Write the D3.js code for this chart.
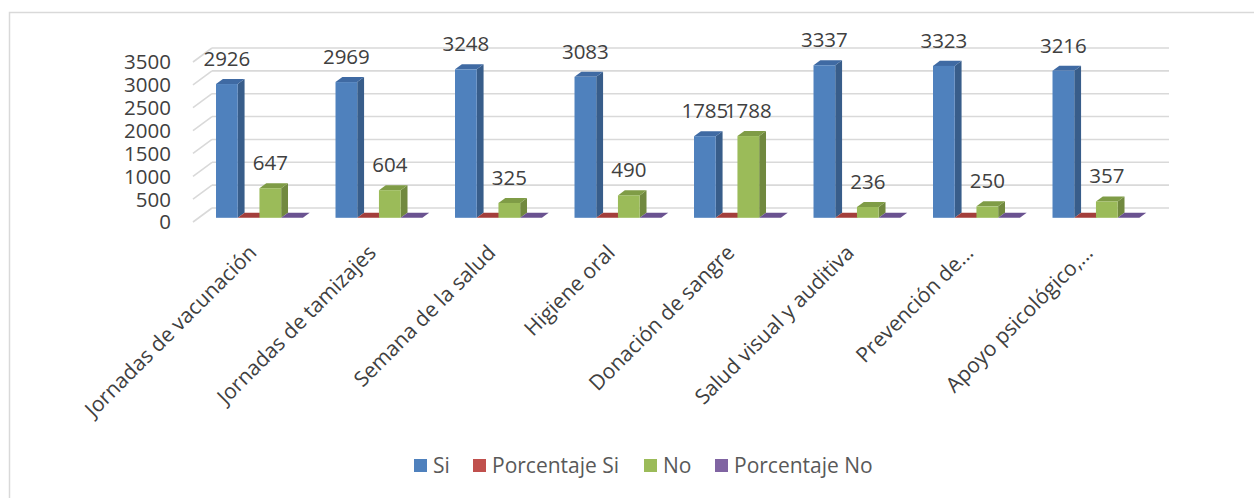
<!DOCTYPE html>
<html>
<head>
<meta charset="utf-8">
<script src="https://cdn.jsdelivr.net/npm/d3@7"></script>
<style>
  html, body { margin: 0; padding: 0; background: #fff; }
  svg { display: block; font-family: "Open Sans", sans-serif; }
</style>
</head>
<body>
<svg width="1254" height="498"></svg>
<script>
// chart data
var categories = ['Jornadas de vacunación', 'Jornadas de tamizajes', 'Semana de la salud', 'Higiene oral',
  'Donación de sangre', 'Salud visual y auditiva', 'Prevención de...', 'Apoyo psicológico,...'];
var si = [2926, 2969, 3248, 3083, 1785, 3337, 3323, 3216];
var porcentajeSi = [0.82, 0.83, 0.91, 0.86, 0.5, 0.93, 0.93, 0.9];
var no = [647, 604, 325, 490, 1788, 236, 250, 357];
var porcentajeNo = [0.18, 0.17, 0.09, 0.14, 0.5, 0.07, 0.07, 0.1];
var yTicks = [0, 500, 1000, 1500, 2000, 2500, 3000, 3500];
var seriesNames = ['Si', 'Porcentaje Si', 'No', 'Porcentaje No'];

var colors = {
  'Si': { front: '#4f81bd', side: '#385d8a', top: '#3f6aa3' },
  'Porcentaje Si': { front: '#c0504d', side: '#8c3836', top: '#a33e3b' },
  'No': { front: '#9bbb59', side: '#71893f', top: '#7f9c46' },
  'Porcentaje No': { front: '#8064a2', side: '#5c4876', top: '#6a5290' }
};

var svg = d3.select('svg');

// border of the chart area
svg.append('path')
  .attr('d', 'M9.5,498 L9.5,12.5 L1254,12.5')
  .attr('fill', 'none').attr('stroke', '#d9d9d9').attr('stroke-width', 1.5);

// floor front edge and depth of the 3D box
var frontLeft = 194, frontRight = 1150, floorY = 222;
var D = { x: 19, y: -14 };
var tFront = 0.3, tBack = 0.66;

var h = d3.scaleLinear().domain([0, 3500]).range([0, 160]);

var x0 = d3.scaleBand().domain(categories).range([frontLeft, frontRight])
  .paddingInner(0.273).paddingOuter(0.1365);
var x1 = d3.scaleBand().domain(seriesNames).range([0, x0.bandwidth()]);

// gridlines: left wall diagonals + back wall
var grid = svg.append('g').attr('stroke', '#d9d9d9').attr('stroke-width', 1.6).attr('fill', 'none');
yTicks.forEach(function (v) {
  var yf = floorY - h(v), yb = yf + D.y;
  grid.append('line')
    .attr('x1', frontLeft - 1).attr('y1', yf).attr('x2', frontLeft - 1 + D.x).attr('y2', yb);
  grid.append('line')
    .attr('x1', frontLeft - 1 + D.x).attr('y1', yb).attr('x2', frontRight + D.x).attr('y2', yb);
});

// value axis labels
svg.append('g').selectAll('text')
  .data(yTicks).enter().append('text')
  .attr('x', 171)
  .attr('y', function (d) { return floorY - h(d); })
  .attr('dy', '0.36em')
  .attr('text-anchor', 'end')
  .attr('fill', '#404040')
  .style('font-size', '20.5px')
  .text(function (d) { return d; });

// bars
var seriesData = {
  'Si': si, 'Porcentaje Si': porcentajeSi, 'No': no, 'Porcentaje No': porcentajeNo
};
var dx = (tBack - tFront) * D.x, dy = (tBack - tFront) * D.y;
var barsG = svg.append('g');
categories.forEach(function (c, i) {
  seriesNames.forEach(function (s) {
    var v = seriesData[s][i];
    var w = x1.bandwidth();
    var bx = x0(c) + x1(s) + tFront * D.x;
    var yb = floorY + tFront * D.y;
    var yt = yb - h(v);
    var col = colors[s];
    var g = barsG.append('g');
    g.append('polygon')
      .attr('points', [[bx + w, yb], [bx + w + dx, yb + dy], [bx + w + dx, yt + dy], [bx + w, yt]].join(' '))
      .attr('fill', col.side);
    g.append('polygon')
      .attr('points', [[bx, yt], [bx + dx, yt + dy], [bx + w + dx, yt + dy], [bx + w, yt]].join(' '))
      .attr('fill', col.top);
    g.append('rect')
      .attr('x', bx).attr('y', yt).attr('width', w).attr('height', Math.max(0, yb - yt))
      .attr('fill', col.front);
  });
});

// data labels for Si and No
var labelsG = svg.append('g').attr('fill', '#404040').style('font-size', '20.5px').attr('text-anchor', 'middle');
['Si', 'No'].forEach(function (s) {
  categories.forEach(function (c, i) {
    var v = seriesData[s][i];
    var cx = x0(c) + x1(s) + tFront * D.x + x1.bandwidth() / 2;
    var yt = floorY + tFront * D.y - h(v);
    labelsG.append('text')
      .attr('x', cx).attr('y', yt - 18)
      .text(v);
  });
});

// category labels, rotated
svg.append('g').selectAll('text')
  .data(categories).enter().append('text')
  .attr('transform', function (d) {
    var cx = x0(d) + x0.bandwidth() / 2;
    return 'translate(' + (cx + 4) + ',254) rotate(-45)';
  })
  .attr('text-anchor', 'end')
  .attr('fill', '#404040')
  .style('font-size', '21px')
  .text(function (d) { return d; });

// legend
var legendItems = [
  { name: 'Si', x: 414 },
  { name: 'Porcentaje Si', x: 473 },
  { name: 'No', x: 644 },
  { name: 'Porcentaje No', x: 715 }
];
var legend = svg.append('g');
legendItems.forEach(function (it) {
  legend.append('rect')
    .attr('x', it.x).attr('y', 459).attr('width', 13).attr('height', 13)
    .attr('fill', colors[it.name].front);
  legend.append('text')
    .attr('x', it.x + 19).attr('y', 473)
    .attr('fill', '#595959')
    .style('font-size', '21px')
    .text(it.name);
});
</script>
</body>
</html>
